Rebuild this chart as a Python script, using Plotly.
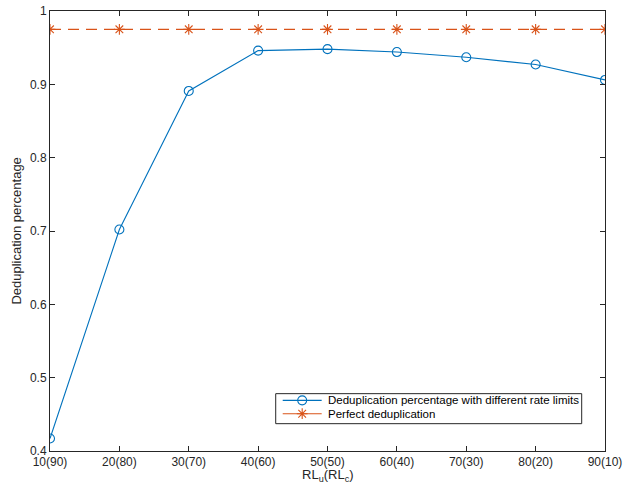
import plotly.graph_objects as go

categories = ["10(90)", "20(80)", "30(70)", "40(60)", "50(50)", "60(40)", "70(30)", "80(20)", "90(10)"]
dedup_rate_limits = [0.417, 0.702, 0.891, 0.946, 0.948, 0.944, 0.937, 0.927, 0.906]
perfect_dedup = [0.975] * 9
y_ticks = [0.4, 0.5, 0.6, 0.7, 0.8, 0.9, 1.0]
y_ticktext = ["0.4", "0.5", "0.6", "0.7", "0.8", "0.9", "1"]
legend_labels = ["Deduplication percentage with different rate limits", "Perfect deduplication"]

BLUE = "#0072BD"
ORANGE = "#D95319"
AX = "#262626"
FONT = "Liberation Sans, Arial, Helvetica, sans-serif"

fig = go.Figure()
fig.add_trace(go.Scatter(
    x=categories, y=dedup_rate_limits, mode="lines+markers",
    name=legend_labels[0], showlegend=False,
    line=dict(color=BLUE, width=1.1),
    marker=dict(symbol="circle-open", size=9, color=BLUE, line=dict(width=1.1, color=BLUE)),
))
fig.add_trace(go.Scatter(
    x=categories, y=perfect_dedup, mode="lines+markers",
    name=legend_labels[1], showlegend=False,
    line=dict(color=ORANGE, width=1.1, dash="11px,7px"),
    marker=dict(symbol="asterisk-open", size=9, color=ORANGE, line=dict(width=1.1, color=ORANGE)),
))

# --- compact MATLAB-style legend (paper-coordinate layout) ---
lx0, lx1, ly0, ly1 = 0.4067, 0.958, 0.0621, 0.1303
row_y = [0.1151, 0.0848]
samp_x0, samp_x1 = 0.4193, 0.4895
text_x = 0.4973
fig.add_shape(type="rect", xref="paper", yref="paper", x0=lx0, x1=lx1, y0=ly0, y1=ly1,
              line=dict(color=AX, width=1), fillcolor="white", layer="below")
styles = [
    (BLUE, "solid", "circle-open"),
    (ORANGE, "solid", "asterisk-open"),
]
for (col, dash, sym), ry, lab in zip(styles, row_y, legend_labels):
    fig.add_shape(type="line", xref="paper", yref="paper", x0=samp_x0, x1=samp_x1, y0=ry, y1=ry,
                  line=dict(color=col, width=1.1, dash=dash), layer="below")
    fig.add_trace(go.Scatter(
        x=[(samp_x0 + samp_x1) / 2], y=[ry], xaxis="x2", yaxis="y2", mode="markers",
        showlegend=False, hoverinfo="skip",
        marker=dict(symbol=sym, size=9, color=col, line=dict(width=1.1, color=col)),
    ))
    fig.add_annotation(x=text_x, y=ry, xref="paper", yref="paper", text=lab, showarrow=False,
                       xanchor="left", yanchor="middle",
                       font=dict(family=FONT, size=11.5, color="black"))

axis_common = dict(
    showline=True, linecolor=AX, linewidth=1, mirror="ticks",
    ticks="inside", ticklen=5, tickcolor=AX, tickwidth=1,
    showgrid=False, zeroline=False, automargin=False,
    tickfont=dict(family=FONT, size=12, color=AX),
)

fig.update_layout(
    width=623, height=489,
    margin=dict(l=50, r=18, t=11, b=38),
    paper_bgcolor="white", plot_bgcolor="white",
    font=dict(family=FONT, color=AX),
    showlegend=False,
    xaxis=dict(
        **axis_common,
        type="category", categoryorder="array", categoryarray=categories,
        range=[0, 8],
    ),
    yaxis=dict(
        **axis_common,
        range=[0.4, 1.0], tickvals=y_ticks, ticktext=y_ticktext,
    ),
    xaxis2=dict(overlaying="x", range=[0, 1], visible=False, fixedrange=True),
    yaxis2=dict(overlaying="y", range=[0, 1], visible=False, fixedrange=True),
)

fig.add_annotation(x=0.5, y=-0.056, xref="paper", yref="paper", showarrow=False,
                   text="RL<sub>u</sub>(RL<sub>c</sub>)", xanchor="center", yanchor="middle",
                   font=dict(family=FONT, size=13, color=AX))
fig.add_annotation(x=-0.062, y=0.5, xref="paper", yref="paper", showarrow=False,
                   text="Deduplication percentage", textangle=-90, xanchor="center", yanchor="middle",
                   font=dict(family=FONT, size=13, color=AX))

fig.write_html("out.html", config={"displayModeBar": False},
               post_script="document.body.style.margin='0';document.body.style.overflow='hidden';")
